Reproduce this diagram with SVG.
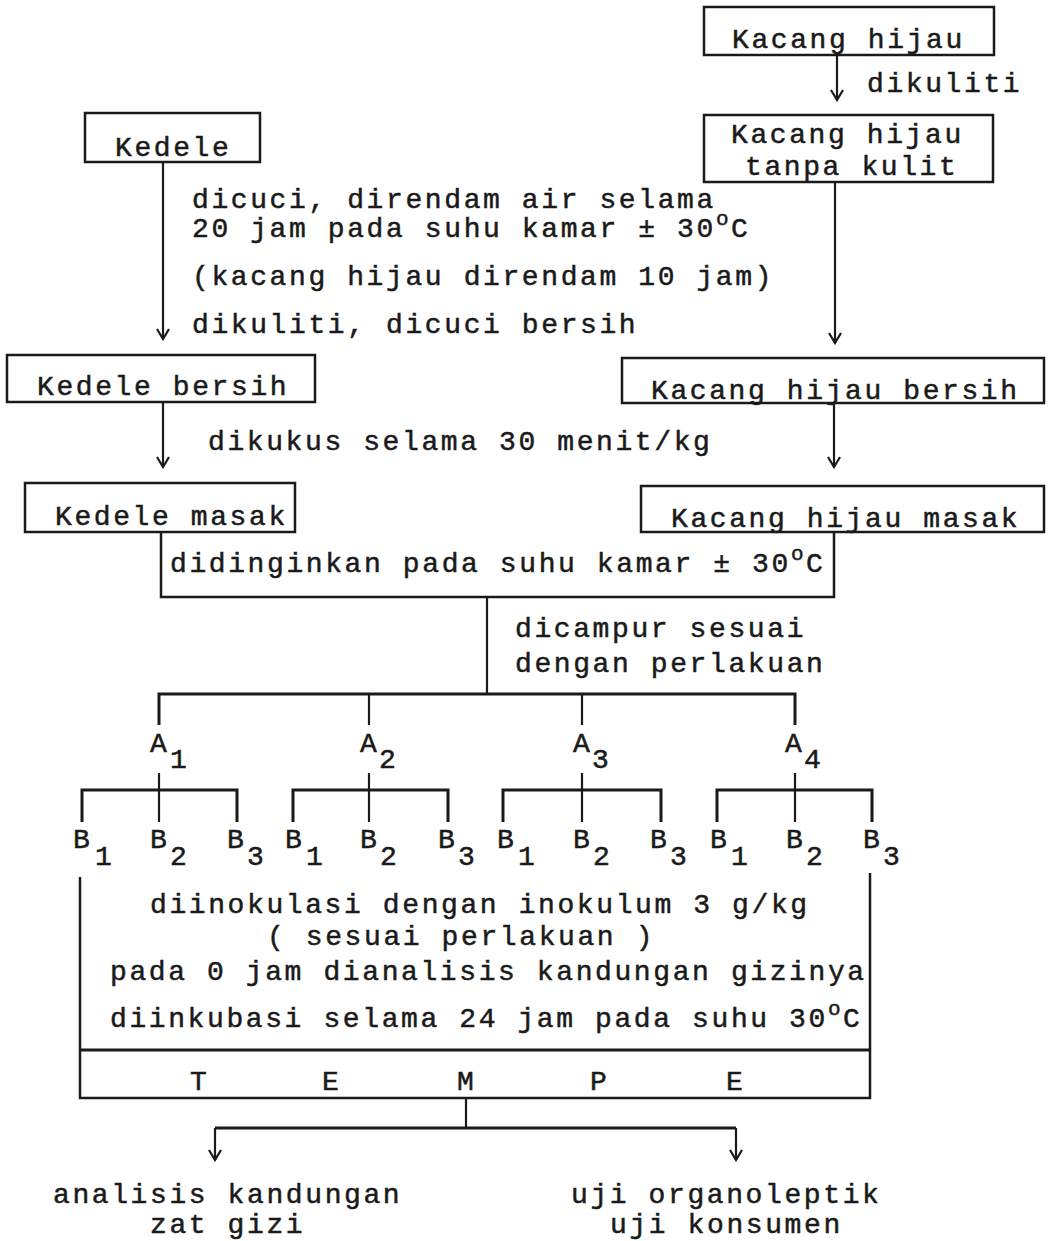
<svg xmlns="http://www.w3.org/2000/svg" width="1048" height="1241" viewBox="0 0 1048 1241">
<style>
text{font-family:"Liberation Mono","Courier New",monospace;font-size:28px;letter-spacing:2.6px;fill:#1a1a1a;stroke:#1a1a1a;stroke-width:0.5}
.box{fill:none;stroke:#1a1a1a;stroke-width:2.5}
.ln{fill:none;stroke:#1a1a1a;stroke-width:2.2}
.hl{fill:none;stroke:#1a1a1a;stroke-width:3}
.ar{marker-end:url(#arr)}
.sup{font-size:21px}
</style>
<defs>
<marker id="arr" viewBox="-12 -8 14 16" refX="0" refY="0" markerWidth="14" markerHeight="16" markerUnits="userSpaceOnUse" orient="auto">
<path d="M-10,-6 L0,0 L-10,6" fill="none" stroke="#1a1a1a" stroke-width="2.2"/>
</marker>
</defs>
<rect width="1048" height="1241" fill="#fff"/>

<g id="connectors">
<line class="ln ar" x1="837" y1="55" x2="837" y2="100"/>
<line class="ln ar" x1="163" y1="162" x2="163" y2="339"/>
<line class="ln ar" x1="835" y1="182" x2="835" y2="343"/>
<line class="ln ar" x1="163" y1="402" x2="163" y2="467"/>
<line class="ln ar" x1="834" y1="403" x2="834" y2="467"/>
<line class="ln" x1="487" y1="597" x2="487" y2="694"/>
<path class="hl" d="M159,725 V694 H795 V725"/>
<line class="ln" x1="369" y1="694" x2="369" y2="725"/>
<line class="ln" x1="582" y1="694" x2="582" y2="725"/>
<line class="ln" x1="159" y1="773" x2="159" y2="822"/>
<line class="ln" x1="369" y1="773" x2="369" y2="822"/>
<line class="ln" x1="582" y1="773" x2="582" y2="822"/>
<line class="ln" x1="795" y1="773" x2="795" y2="822"/>
<path class="hl" d="M82,822 V790 H237 V822"/>
<path class="hl" d="M293,822 V790 H448 V822"/>
<path class="hl" d="M503,822 V790 H661 V822"/>
<path class="hl" d="M717,822 V790 H872 V822"/>
<line class="ln" x1="466" y1="1098" x2="466" y2="1128"/>
<path class="hl" d="M215,1128 H736"/>
<line class="ln ar" x1="215" y1="1128" x2="215" y2="1160"/>
<line class="ln ar" x1="736" y1="1128" x2="736" y2="1160"/>
</g>

<g id="edge-labels">
<text x="867" y="92">dikuliti</text>
<text x="192" y="208">dicuci, direndam air selama</text>
<text x="192" y="237">20 jam pada suhu kamar ± 30<tspan class="sup" dy="-12">o</tspan><tspan dy="12">C</tspan></text>
<text x="192" y="285">(kacang hijau direndam 10 jam)</text>
<text x="192" y="333">dikuliti, dicuci bersih</text>
<text x="208" y="450">dikukus selama 30 menit/kg</text>
<text x="515" y="637">dicampur sesuai</text>
<text x="515" y="672">dengan perlakuan</text>
</g>

<g id="n-kacang-hijau">
<rect class="box" x="704" y="7" width="290" height="48"/>
<text x="732" y="48">Kacang hijau</text>
</g>
<g id="n-kacang-hijau-tanpa-kulit">
<rect class="box" x="704" y="115" width="289" height="67"/>
<text x="731" y="143">Kacang hijau</text>
<text x="745" y="175">tanpa kulit</text>
</g>
<g id="n-kedele">
<rect class="box" x="85" y="113" width="175" height="49"/>
<text x="115" y="156">Kedele</text>
</g>
<g id="n-kedele-bersih">
<rect class="box" x="7" y="355" width="308" height="47"/>
<text x="37" y="395">Kedele bersih</text>
</g>
<g id="n-kacang-hijau-bersih">
<rect class="box" x="622" y="358" width="422" height="45"/>
<text x="651" y="399">Kacang hijau bersih</text>
</g>
<g id="n-kedele-masak">
<rect class="box" x="25" y="483" width="270" height="49"/>
<text x="55" y="525">Kedele masak</text>
</g>
<g id="n-kacang-hijau-masak">
<rect class="box" x="641" y="486" width="403" height="46"/>
<text x="671" y="527">Kacang hijau masak</text>
</g>
<g id="n-didinginkan">
<path class="box" d="M161,532 V597 H834 V532"/>
<text x="170" y="572">didinginkan pada suhu kamar ± 30<tspan class="sup" dy="-12">o</tspan><tspan dy="12">C</tspan></text>
</g>

<g id="n-a1"><text x="150" y="752">A</text><text x="170" y="768">1</text></g>
<g id="n-a2"><text x="360" y="752">A</text><text x="379" y="768">2</text></g>
<g id="n-a3"><text x="573" y="752">A</text><text x="592" y="768">3</text></g>
<g id="n-a4"><text x="785" y="752">A</text><text x="804" y="768">4</text></g>

<g id="n-a1-b1"><text x="73" y="848">B</text><text x="95" y="865">1</text></g>
<g id="n-a1-b2"><text x="150" y="848">B</text><text x="170" y="865">2</text></g>
<g id="n-a1-b3"><text x="227" y="848">B</text><text x="247" y="865">3</text></g>
<g id="n-a2-b1"><text x="285" y="848">B</text><text x="306" y="865">1</text></g>
<g id="n-a2-b2"><text x="360" y="848">B</text><text x="380" y="865">2</text></g>
<g id="n-a2-b3"><text x="438" y="848">B</text><text x="458" y="865">3</text></g>
<g id="n-a3-b1"><text x="497" y="848">B</text><text x="518" y="865">1</text></g>
<g id="n-a3-b2"><text x="573" y="848">B</text><text x="593" y="865">2</text></g>
<g id="n-a3-b3"><text x="650" y="848">B</text><text x="670" y="865">3</text></g>
<g id="n-a4-b1"><text x="710" y="848">B</text><text x="731" y="865">1</text></g>
<g id="n-a4-b2"><text x="786" y="848">B</text><text x="806" y="865">2</text></g>
<g id="n-a4-b3"><text x="863" y="848">B</text><text x="883" y="865">3</text></g>

<g id="n-inokulasi">
<path class="box" d="M80,877 V1098 H870 V873"/>
<line class="hl" x1="80" y1="1050" x2="870" y2="1050"/>
<text x="150" y="913">diinokulasi dengan inokulum 3 g/kg</text>
<text x="267" y="945">( sesuai perlakuan )</text>
<text x="110" y="980">pada 0 jam dianalisis kandungan gizinya</text>
<text x="110" y="1027">diinkubasi selama 24 jam pada suhu 30<tspan class="sup" dy="-12">o</tspan><tspan dy="12">C</tspan></text>
</g>
<g id="n-tempe">
<text x="190" y="1090">T</text>
<text x="322" y="1090">E</text>
<text x="457" y="1090">M</text>
<text x="590" y="1090">P</text>
<text x="726" y="1090">E</text>
</g>
<g id="n-analisis">
<text x="53" y="1203">analisis kandungan</text>
<text x="150" y="1233">zat gizi</text>
</g>
<g id="n-uji">
<text x="571" y="1203">uji organoleptik</text>
<text x="610" y="1233">uji konsumen</text>
</g>
</svg>
